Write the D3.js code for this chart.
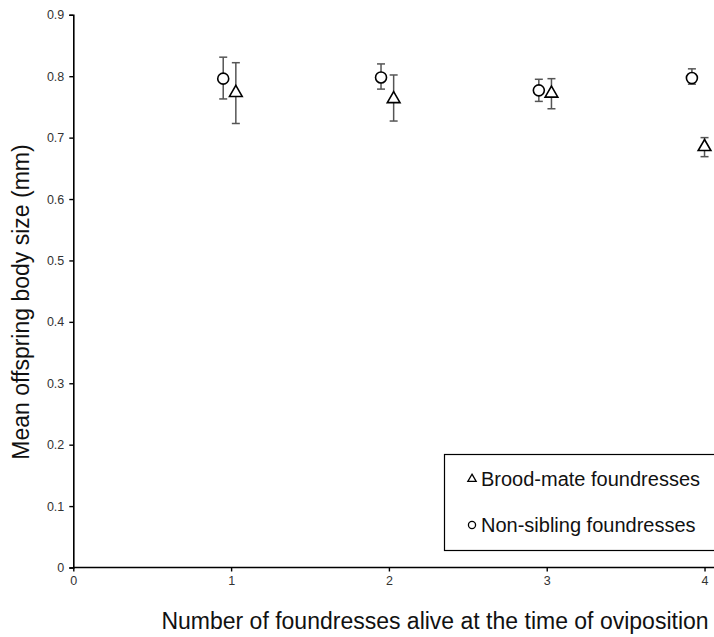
<!DOCTYPE html>
<html>
<head>
<meta charset="utf-8">
<script src="https://cdn.jsdelivr.net/npm/d3@7"></script>
<style>
  body { margin: 0; background: #fff; }
  svg { display: block; font-family: Arial, "Liberation Sans", sans-serif; }
</style>
</head>
<body>
<svg id="chart" width="714" height="637"></svg>
<script>
// values
var yTicks = [0, 0.1, 0.2, 0.3, 0.4, 0.5, 0.6, 0.7, 0.8, 0.9];
var xTicks = [0, 1, 2, 3, 4];

// Non-sibling foundresses (circles)
var nonSibX = [0.95, 1.95, 2.95, 3.92];
var nonSibMean = [0.796, 0.798, 0.777, 0.797];
var nonSibHi = [0.831, 0.820, 0.795, 0.812];
var nonSibLo = [0.763, 0.779, 0.759, 0.787];

// Brood-mate foundresses (triangles)
var broodX = [1.03, 2.03, 3.03, 4.0];
var broodMean = [0.773, 0.763, 0.772, 0.685];
var broodHi = [0.822, 0.802, 0.796, 0.700];
var broodLo = [0.723, 0.727, 0.747, 0.669];

var svg = d3.select("#chart");

var x = d3.scaleLinear().domain([0, 4.06]).range([73.3, 714]);
var y = d3.scaleLinear().domain([0, 0.9]).range([567.5, 14.8]);

// axes
var yAxis = d3.axisLeft(y).tickValues(yTicks).tickSize(4).tickPadding(5)
    .tickFormat(function(d) { return d === 0 ? "0" : d3.format(".1f")(d); });
var xAxis = d3.axisBottom(x).tickValues(xTicks).tickSize(4).tickPadding(5)
    .tickFormat(d3.format("d"));

var gy = svg.append("g").attr("transform", "translate(" + x(0) + ",0)").call(yAxis);
var gx = svg.append("g").attr("transform", "translate(0," + y(0) + ")").call(xAxis);

[gy, gx].forEach(function(g) {
  g.select(".domain").attr("stroke", "#000").attr("stroke-width", 1.6);
  g.selectAll(".tick line").attr("stroke", "#000").attr("stroke-width", 1.4);
  g.selectAll(".tick text").attr("fill", "#333").style("font-size", "12.5px");
});
gx.select(".domain").attr("d", "M" + x(0) + ",0H714");

// axis titles
svg.append("text")
  .attr("x", 435).attr("y", 629)
  .attr("text-anchor", "middle")
  .attr("fill", "#111")
  .style("font-size", "23px")
  .text("Number of foundresses alive at the time of oviposition");

svg.append("text")
  .attr("transform", "translate(29,302) rotate(-90)")
  .attr("text-anchor", "middle")
  .attr("fill", "#111")
  .style("font-size", "23px")
  .text("Mean offspring body size (mm)");

// error bars + markers
function drawSeries(xs, means, his, los, shape) {
  var g = svg.append("g");
  xs.forEach(function(xv, i) {
    var cx = x(xv);
    g.append("line")
      .attr("x1", cx).attr("x2", cx)
      .attr("y1", y(his[i])).attr("y2", y(los[i]))
      .attr("stroke", "#555").attr("stroke-width", 1.5);
    [his[i], los[i]].forEach(function(v) {
      g.append("line")
        .attr("x1", cx - 4).attr("x2", cx + 4)
        .attr("y1", y(v)).attr("y2", y(v))
        .attr("stroke", "#555").attr("stroke-width", 1.5);
    });
    g.append("path")
      .attr("transform", "translate(" + cx + "," + y(means[i]) + ")")
      .attr("d", d3.symbol().type(shape).size(shape === d3.symbolCircle ? 95 : 70)())
      .attr("fill", "#fff").attr("stroke", "#000").attr("stroke-width", 1.6);
  });
}
drawSeries(nonSibX, nonSibMean, nonSibHi, nonSibLo, d3.symbolCircle);
drawSeries(broodX, broodMean, broodHi, broodLo, d3.symbolTriangle);

// legend
var leg = svg.append("g");
leg.append("rect")
  .attr("x", 444.5).attr("y", 454.5).attr("width", 280).attr("height", 96)
  .attr("fill", "#fff").attr("stroke", "#000").attr("stroke-width", 1.2);

var legItems = [
  {label: "Brood-mate foundresses", shape: d3.symbolTriangle, size: 30, y: 479},
  {label: "Non-sibling foundresses", shape: d3.symbolCircle, size: 40, y: 525}
];
legItems.forEach(function(it) {
  leg.append("path")
    .attr("transform", "translate(472," + it.y + ")")
    .attr("d", d3.symbol().type(it.shape).size(it.size)())
    .attr("fill", "#fff").attr("stroke", "#000").attr("stroke-width", 1.3);
  leg.append("text")
    .attr("x", 481).attr("y", it.y + 7)
    .attr("fill", "#111")
    .style("font-size", "20px")
    .text(it.label);
});
</script>
</body>
</html>
